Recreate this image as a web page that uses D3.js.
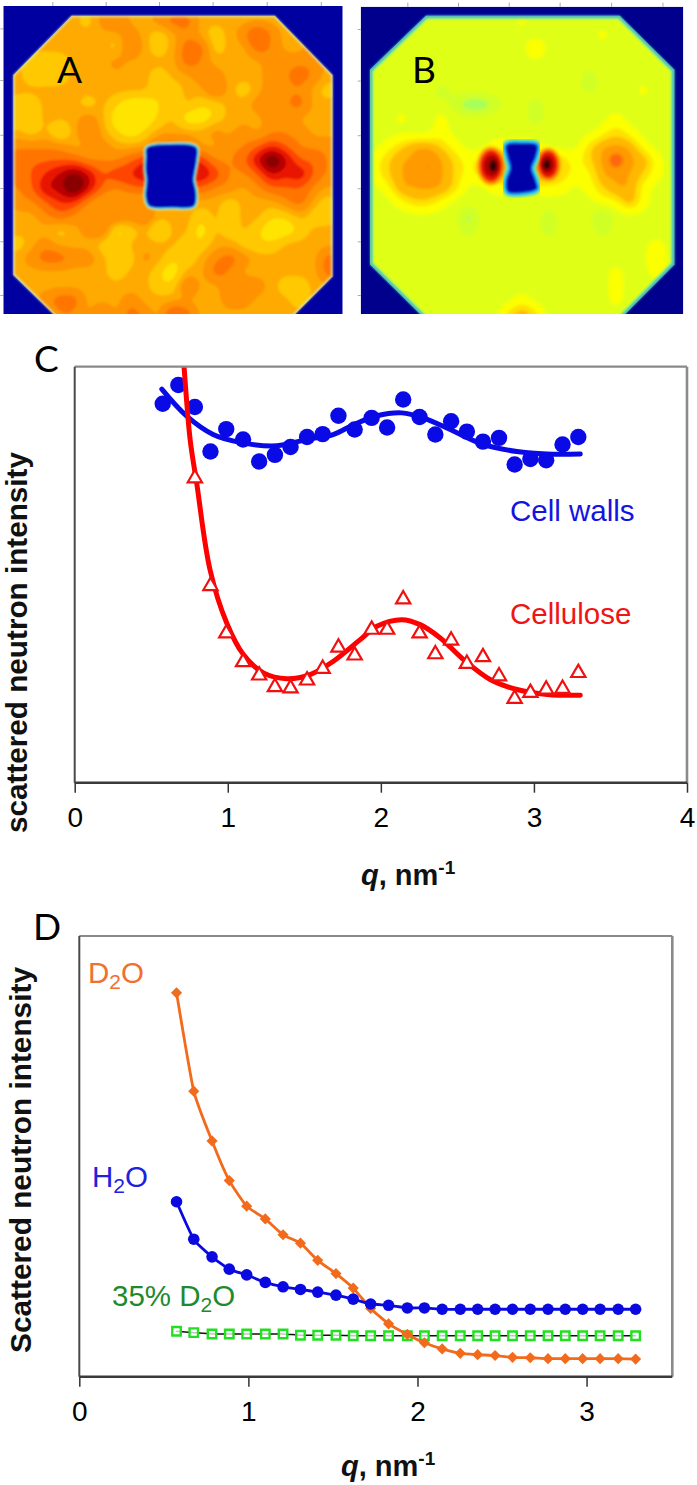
<!DOCTYPE html>
<html>
<head>
  <meta charset="utf-8">
  <title>Neutron scattering panels</title>
  <script src="https://d3js.org/d3.v7.min.js"></script>
  <style>
    html, body { margin: 0; padding: 0; background: #fff; }
    svg { display: block; }
    text { font-family: "Liberation Sans", Arial, sans-serif; }
    .panel-letter { font-family: Lato, "Open Sans", sans-serif; font-size: 37px; fill: #000; }
    .tick text { font-family: "Liberation Sans", Arial, sans-serif; font-size: 28px; fill: #000; }
    .tick line { stroke: #333; stroke-width: 1.5px; }
    .axis-title { font-size: 29px; font-weight: bold; fill: #111; }
    .series-label { font-size: 29.5px; }
    .fit { fill: none; stroke-linecap: round; }
  </style>
</head>
<body>
  <script>
    // q values shared by the measured curves, nm-1
    const qValues = [0.575, 0.677, 0.785, 0.887, 0.99, 1.10, 1.205, 1.308, 1.41, 1.518, 1.62, 1.723, 1.829, 1.94,
      2.041, 2.146, 2.253, 2.356, 2.459, 2.562, 2.667, 2.772, 2.874, 2.977, 3.08, 3.187, 3.29];

    // Panel C, intensity in arbitrary units (no scale on the original)
    const cellWalls = [91.1, 95.6, 90.3, 79.6, 85.0, 82.5, 77.2, 78.8, 80.7, 83.1, 83.8, 88.2, 84.9, 87.7,
      85.4, 92.1, 87.9, 83.7, 86.9, 84.4, 82.0, 82.9, 76.5, 77.8, 77.5, 81.3, 83.1];
    // first two cellulose points are off the top of the plot
    const cellulose = [73.2, 47.3, 35.9, 29.0, 25.8, 23.0, 22.7, 24.6, 27.4, 32.5, 30.6, 36.8,
      36.8, 44.1, 35.9, 30.9, 34.2, 28.6, 30.2, 25.6, 20.2, 21.6, 22.4, 22.6, 26.4];
    const cellWallsFitQ = [0.569, 0.732, 0.904, 1.08, 1.32, 1.516, 1.688, 1.825, 1.974, 2.137, 2.276, 2.453, 2.669, 2.889, 3.085, 3.303];
    const cellWallsFit = [94.6, 88.1, 83.7, 81.8, 81.0, 82.5, 83.7, 86.1, 88.2, 88.9, 87.7, 84.9, 81.3, 79.6, 79.0, 79.0];
    const celluloseFitQ = [0.701, 0.714, 0.754, 0.797, 0.884, 0.993, 1.102, 1.233, 1.386, 1.538, 1.69, 1.865, 1.974, 2.137, 2.257, 2.388, 2.54, 2.714, 2.889, 3.085, 3.303];
    const celluloseFit = [106.5, 100.1, 82.5, 72, 51.2, 38.4, 30.8, 26.4, 25, 26, 29.2, 34.4, 37.6, 39.2, 38, 34.8, 29.6, 24.8, 22.4, 21.2, 21];

    // Panel D
    const d2o = [87.1, 64.8, 53.5, 44.5, 38.7, 35.8, 32.2, 30.3, 26.4, 23.4, 20.1, 15.5, 12.0, 9.6,
      7.7, 6.3, 5.3, 5.0, 4.8, 4.4, 4.3, 4.1, 4.1, 4.1, 4.1, 4.1, 4.0];
    const h2o = [39.7, 31.2, 27.2, 24.4, 23.1, 21.4, 20.4, 19.8, 19.2, 18.5, 17.6, 16.5, 16.2, 15.6,
      15.6, 15.3, 15.3, 15.3, 15.3, 15.3, 15.3, 15.3, 15.3, 15.3, 15.3, 15.3, 15.3];
    const d2o35 = [10.3, 10.0, 9.7, 9.7, 9.7, 9.7, 9.7, 9.4, 9.4, 9.4, 9.3, 9.3, 9.3, 9.3,
      9.3, 9.3, 9.3, 9.3, 9.3, 9.3, 9.3, 9.3, 9.3, 9.3, 9.3, 9.3, 9.3];

    const cTicks = [0, 1, 2, 3, 4];
    const dTicks = [0, 1, 2, 3];

    // Detector maps A and B: intensity level per grid node, one string per row
    const mapA = [
      "3333333333333333333333333",
      "3333332453345533333333333",
      "3333333334323432346433333",
      "3333333325323552335433443",
      "3322233343333543333444433",
      "3322233333323344333445433",
      "3333333333322335323444323",
      "3223332321122322334445333",
      "3223334311123112333443333",
      "2323135321233334343444333",
      "4444433433355533445654444",
      "4555554445666664457975544",
      "4556787566777776445767544",
      "4457797545555554434555434",
      "3445664333333333233345323",
      "3334543454533323233223223",
      "3333234512313313232112333",
      "3234333223333223322233333",
      "3345544322432234543333354",
      "3333333323321335433333355",
      "3333333333322533444322333",
      "3334553334333333443332333",
      "3333443535436533333333333"
    ];
    const mapB = [
      "3333333333333333333333333",
      "3333333333334333333333333",
      "3333333333333333334333333",
      "3333333333333533333333333",
      "3333333333333333333333333",
      "3333333333333333323333333",
      "3333332333333333323334333",
      "3333333211233233343333333",
      "3334334333333233333433333",
      "3333334333333333334543333",
      "3345665433444433356664333",
      "3456676545566665456866433",
      "3456676545566665446665433",
      "3346666533444444345664333",
      "3334554333333333334464333",
      "3333333313333323331333333",
      "3333333323333323332333333",
      "3333333333333333333333433",
      "3333333333333333333333533",
      "3333333333333333333433433",
      "3333333333333333333433333",
      "3333333333334333333433333",
      "3333333333356533333333333"
    ];
    const detectorTicksX = [3.47, 7.24, 11.01, 14.8, 18.63, 22.45];
    const detectorTicksY = [1.6, 5.29, 9.2, 13, 16.8, 20.64];
    const octagonA = [[4.83, 0.69], [19.2, 0.69], [23.28, 4.93], [23.28, 19.33], [19.65, 23], [4.55, 23], [0.71, 19.21], [0.71, 4.93]];
    const octagonB = [[4.86, 0.64], [19.26, 0.64], [23.33, 4.52], [23.33, 18.45], [18.65, 23], [5.47, 23], [0.69, 18.45], [0.69, 4.52]];
    const beamstopA = [[10.2, 10.15], [11.91, 9.92], [13.6, 10.12], [13.62, 11], [13.48, 11.83], [13.4, 12.43], [13.58, 13.38],
      [13.45, 14.25], [11.91, 14.34], [10.35, 14.25], [10.12, 13.62], [10.2, 12.43], [10.12, 11.71], [10.15, 10.76]];
    const beamstopB = [[10.9, 9.95], [11.99, 9.85], [13.05, 9.95], [12.95, 10.71], [12.63, 11.55], [12.95, 12.5], [13.05, 13.0],
      [11.99, 13.25], [11, 13.2], [10.9, 12.5], [11.22, 11.55], [11, 10.71]];
    // col, row, radius col, radius row, level: the two sharp peaks beside the beamstop in B
    const spotsB = [
      [9.7, 11.4, 1.05, 1.4, 7], [9.7, 11.4, 0.85, 1.15, 9], [9.75, 11.4, 0.6, 0.8, 10], [9.85, 11.4, 0.28, 0.42, 11],
      [13.95, 11.3, 0.95, 1.2, 7], [13.95, 11.3, 0.75, 1.0, 9], [13.9, 11.3, 0.5, 0.68, 10], [13.85, 11.3, 0.26, 0.36, 11]
    ];

    const paletteA = ["#ffe400", "#ffc800", "#ffaa00", "#ff9200", "#ff7400", "#ff4400", "#e81400", "#b80000", "#8a0000"];
    const paletteB = ["#a8ff58", "#d0ff28", "#e0ff14", "#fbff00", "#ffe000", "#ffb800", "#ff9a00", "#ff6810", "#f01800", "#b00000", "#2a0000"];
    // level boundaries that go with each palette
    const levelsA = [1.9, 2.7, 3.35, 4.2, 5.1, 5.9, 6.7, 7.4];
    const levelsB = [1.9, 2.6, 3.45, 4.4, 5.1, 5.9, 6.7, 7.5];

    const width = 697;
    const height = 1485;
    const upsample = 4;

    const svg = d3.select("body").append("svg")
      .attr("width", width)
      .attr("height", height);
    const defs = svg.append("defs");

    defs.append("filter").attr("id", "soft")
      .append("feGaussianBlur").attr("stdDeviation", 0.8);
    defs.append("filter").attr("id", "softer")
      .append("feGaussianBlur").attr("stdDeviation", 1.4);

    // bilinear resample of the read levels, so the contours come out round
    function resample(grid) {
      const rows = grid.map(row => row.split("").map(Number));
      const nx = rows[0].length, ny = rows.length;
      const w = (nx - 1) * upsample + 1, h = (ny - 1) * upsample + 1;
      const data = new Float64Array(w * h);
      for (let j = 0; j < h; j++) {
        for (let i = 0; i < w; i++) {
          const gx = i / upsample, gy = j / upsample;
          const x0 = Math.min(Math.floor(gx), nx - 2), y0 = Math.min(Math.floor(gy), ny - 2);
          const fx = gx - x0, fy = gy - y0;
          data[j * w + i] = rows[y0][x0] * (1 - fx) * (1 - fy) + rows[y0][x0 + 1] * fx * (1 - fy)
            + rows[y0 + 1][x0] * (1 - fx) * fy + rows[y0 + 1][x0 + 1] * fx * fy;
        }
      }
      d3.blur2({data, width: w, height: h}, 1);
      return {data, w, h};
    }

    function drawMap(opts) {
      const x = d3.scaleLinear().domain([0, 24]).range(opts.xRange);
      const y = d3.scaleLinear().domain([0, 22]).range(opts.yRange);
      const g = svg.append("g");

      // small frame ticks
      const ticksTop = d3.axisTop(x).tickValues(detectorTicksX).tickSize(4).tickFormat("");
      const ticksLeft = d3.axisLeft(y).tickValues(detectorTicksY).tickSize(3).tickFormat("");
      [g.append("g").attr("transform", `translate(0,${opts.yRange[0]})`).call(ticksTop),
       g.append("g").attr("transform", `translate(${opts.xRange[0]},0)`).call(ticksLeft)].forEach(a => {
        a.select(".domain").remove();
        a.selectAll("line").style("stroke", "#aaa").style("stroke-width", "1px");
      });

      defs.append("clipPath").attr("id", opts.id + "-frame").append("rect")
        .attr("x", opts.xRange[0]).attr("y", opts.yRange[0])
        .attr("width", opts.xRange[1] - opts.xRange[0])
        .attr("height", opts.yRange[1] - opts.yRange[0]);
      const inner = g.append("g").attr("clip-path", `url(#${opts.id}-frame)`);

      inner.append("rect")
        .attr("x", opts.xRange[0]).attr("y", opts.yRange[0])
        .attr("width", opts.xRange[1] - opts.xRange[0])
        .attr("height", opts.yRange[1] - opts.yRange[0])
        .attr("fill", opts.navy);

      const clipId = opts.id + "-clip";
      const octPath = d3.line().x(d => x(d[0])).y(d => y(d[1])).curve(d3.curveLinearClosed)(opts.octagon);
      defs.append("clipPath").attr("id", clipId).append("path").attr("d", octPath);

      const fine = resample(opts.grid);
      const contours = d3.contours()
        .size([fine.w, fine.h])
        .thresholds(opts.levels)(fine.data);
      const project = d3.geoPath(d3.geoTransform({
        point(px, py) { this.stream.point(x((px - 0.5) / upsample), y((py - 0.5) / upsample)); }
      }));

      const field = inner.append("g")
        .attr("clip-path", `url(#${clipId})`)
        .append("g")
        .attr("filter", `url(#${opts.blur})`);

      field.append("path").attr("d", octPath).attr("fill", opts.palette[0])
        .attr("stroke", opts.palette[0]).attr("stroke-width", 12);
      field.selectAll(".level")
        .data(contours)
        .join("path")
        .attr("class", "level")
        .attr("d", project)
        .attr("fill", (d, i) => opts.palette[i + 1]);

      if (opts.spots) {
        field.selectAll(".spot")
          .data(opts.spots)
          .join("ellipse")
          .attr("class", "spot")
          .attr("cx", d => x(d[0]))
          .attr("cy", d => y(d[1]))
          .attr("rx", d => x(d[2]) - x(0))
          .attr("ry", d => y(d[3]) - y(0))
          .attr("fill", d => opts.palette[d[4] - 1]);
      }

      // detector edge
      const edge = inner.append("g").attr("filter", "url(#soft)");
      opts.edgeStrokes.forEach(s => {
        edge.append("path").attr("d", octPath).attr("fill", "none")
          .attr("stroke", s[0]).attr("stroke-width", s[1])
          .attr("clip-path", `url(#${clipId})`);
      });

      // beamstop
      const stopPath = d3.line().x(d => x(d[0])).y(d => y(d[1])).curve(d3.curveCatmullRomClosed)(opts.beamstop);
      const stop = inner.append("g").attr("filter", "url(#soft)");
      opts.stopStrokes.forEach(s => {
        stop.append("path").attr("d", stopPath).attr("fill", s[0])
          .attr("stroke", s[0]).attr("stroke-width", s[1]).attr("stroke-linejoin", "round");
      });
    }

    drawMap({
      id: "mapA", grid: mapA, palette: paletteA, levels: levelsA, navy: "#0000a0", blur: "soft",
      xRange: [3.3, 342.7], yRange: [6, 314], octagon: octagonA, beamstop: beamstopA,
      edgeStrokes: [["#c8ecd8", 3]],
      stopStrokes: [["#e0f4a0", 6], ["#30d0e8", 4], ["#0060e0", 1.8], ["#0000b0", 0]]
    });
    drawMap({
      id: "mapB", grid: mapB, palette: paletteB, levels: levelsB, navy: "#00008c", blur: "softer",
      xRange: [360.7, 683.3], yRange: [6.7, 314], octagon: octagonB, beamstop: beamstopB, spots: spotsB,
      edgeStrokes: [["#90f080", 7], ["#30d8d0", 4.5], ["#1060e0", 2]],
      stopStrokes: [["#70e8a0", 11], ["#20c0f0", 7], ["#0040e0", 3], ["#0000a8", 0]]
    });

    const letters = [["A", 57, 83], ["B", 412, 83], ["C", 34, 372], ["D", 33, 940]];
    svg.selectAll(".panel-letter")
      .data(letters)
      .join("text")
      .attr("class", "panel-letter")
      .attr("x", d => d[1])
      .attr("y", d => d[2])
      .text(d => d[0]);

    function frame(g, x, y, ticks) {
      const [x0, x1] = x.range();
      const [y0, y1] = y.range();
      g.append("line").attr("x1", x0).attr("x2", x1).attr("y1", y1).attr("y2", y1)
        .attr("stroke", "#8a8a8a").attr("stroke-width", 2.2);
      g.append("line").attr("x1", x1).attr("x2", x1).attr("y1", y1).attr("y2", y0)
        .attr("stroke", "#8a8a8a").attr("stroke-width", 2.6);
      g.append("line").attr("x1", x0).attr("x2", x0).attr("y1", y1).attr("y2", y0)
        .attr("stroke", "#4a4a4a").attr("stroke-width", 2);
      g.append("line").attr("x1", x0).attr("x2", x1).attr("y1", y0).attr("y2", y0)
        .attr("stroke", "#3a3a3a").attr("stroke-width", 2.4);
      const axis = g.append("g")
        .attr("transform", `translate(0,${y0})`)
        .call(d3.axisBottom(x).tickValues(ticks).tickFormat(d3.format("d")).tickSize(10).tickPadding(14));
      axis.select(".domain").remove();
    }

    function yTitle(label, xPos, y0, len) {
      svg.append("text")
        .attr("class", "axis-title")
        .attr("transform", `translate(${xPos},${y0}) rotate(-90)`)
        .attr("textLength", len)
        .attr("lengthAdjust", "spacingAndGlyphs")
        .text(label);
    }

    function qTitle(xPos, yPos) {
      const t = svg.append("text").attr("class", "axis-title").attr("x", xPos).attr("y", yPos);
      t.append("tspan").attr("font-style", "italic").text("q");
      t.append("tspan").text(", nm");
      t.append("tspan").attr("dy", -11).attr("font-size", 19).text("-1");
    }

    function waterLabel(prefix, xPos, yPos, color) {
      const t = svg.append("text").attr("class", "series-label").attr("x", xPos).attr("y", yPos).attr("fill", color);
      t.append("tspan").text(prefix);
      t.append("tspan").attr("dy", 6).attr("font-size", 21).text("2");
      t.append("tspan").attr("dy", -6).text("O");
    }

    // Panel C
    const xC = d3.scaleLinear().domain([0, 4]).range([74.7, 687]);
    const yC = d3.scaleLinear().domain([0, 100]).range([782.7, 366.7]);
    const gC = svg.append("g");

    defs.append("clipPath").attr("id", "clipC").append("rect")
      .attr("x", 74.7).attr("y", 366.7).attr("width", 612.3).attr("height", 416);

    const lineC = d3.line().x(d => xC(d[0])).y(d => yC(d[1])).curve(d3.curveCatmullRom);

    gC.selectAll(".dotC")
      .data(d3.zip(qValues, cellWalls))
      .join("circle")
      .attr("class", "dotC")
      .attr("cx", d => xC(d[0]))
      .attr("cy", d => yC(d[1]))
      .attr("r", 8.2)
      .attr("fill", "#0a0ae6");
    gC.append("path")
      .attr("class", "fit")
      .attr("d", lineC(d3.zip(cellWallsFitQ, cellWallsFit)))
      .attr("stroke", "#0a0ae6")
      .attr("stroke-width", 5);

    gC.append("path")
      .attr("class", "fit")
      .attr("clip-path", "url(#clipC)")
      .attr("d", lineC(d3.zip(celluloseFitQ, celluloseFit)))
      .attr("stroke", "#ff0000")
      .attr("stroke-width", 5);
    gC.selectAll(".triC")
      .data(d3.zip(qValues.slice(2), cellulose))
      .join("path")
      .attr("class", "triC")
      .attr("transform", d => `translate(${xC(d[0])},${yC(d[1])})`)
      .attr("d", d3.symbol(d3.symbolTriangle, 88))
      .attr("fill", "#fff")
      .attr("stroke", "#f01010")
      .attr("stroke-width", 2.2);

    frame(gC, xC, yC, cTicks);
    yTitle("scattered neutron intensity", 27, 833, 381);
    qTitle(361, 885);

    gC.append("text").attr("class", "series-label").attr("x", 510).attr("y", 521).attr("fill", "#1414e0").text("Cell walls");
    gC.append("text").attr("class", "series-label").attr("x", 510).attr("y", 624).attr("fill", "#f01414").text("Cellulose");

    // Panel D
    const xD = d3.scaleLinear().domain([0, 3.507]).range([79.3, 672.3]);
    const yD = d3.scaleLinear().domain([0, 100]).range([1376.7, 936]);
    const gD = svg.append("g");
    const lineD = d3.line().x(d => xD(d[0])).y(d => yD(d[1])).curve(d3.curveCardinal.tension(0.5));

    gD.append("path").attr("class", "fit")
      .attr("d", lineD(d3.zip(qValues, d2o35)))
      .attr("stroke", "#111").attr("stroke-width", 1.5);
    gD.selectAll(".sqD")
      .data(d3.zip(qValues, d2o35))
      .join("path")
      .attr("class", "sqD")
      .attr("transform", d => `translate(${xD(d[0])},${yD(d[1])})`)
      .attr("d", d3.symbol(d3.symbolSquare, 72))
      .attr("fill", "#fff").attr("fill-opacity", 0.75)
      .attr("stroke", "#20e020").attr("stroke-width", 2.4);

    gD.append("path").attr("class", "fit")
      .attr("d", lineD(d3.zip(qValues, d2o)))
      .attr("stroke", "#f26a1b").attr("stroke-width", 2.8);
    gD.selectAll(".diaD")
      .data(d3.zip(qValues, d2o))
      .join("path")
      .attr("class", "diaD")
      .attr("transform", d => `translate(${xD(d[0])},${yD(d[1])}) rotate(45)`)
      .attr("d", d3.symbol(d3.symbolSquare, 62))
      .attr("fill", "#f26a1b");

    gD.append("path").attr("class", "fit")
      .attr("d", lineD(d3.zip(qValues, h2o)))
      .attr("stroke", "#0a0ae0").attr("stroke-width", 2.8);
    gD.selectAll(".dotD")
      .data(d3.zip(qValues, h2o))
      .join("circle")
      .attr("class", "dotD")
      .attr("cx", d => xD(d[0]))
      .attr("cy", d => yD(d[1]))
      .attr("r", 5.8)
      .attr("fill", "#0a0ae0");

    frame(gD, xD, yD, dTicks);
    yTitle("Scattered neutron intensity", 31, 1353, 386);
    qTitle(341, 1476);

    waterLabel("D", 88, 983, "#f07030");
    waterLabel("H", 92, 1187, "#2020e0");
    waterLabel("35% D", 112, 1306, "#1f8a2d");
  </script>
</body>
</html>
